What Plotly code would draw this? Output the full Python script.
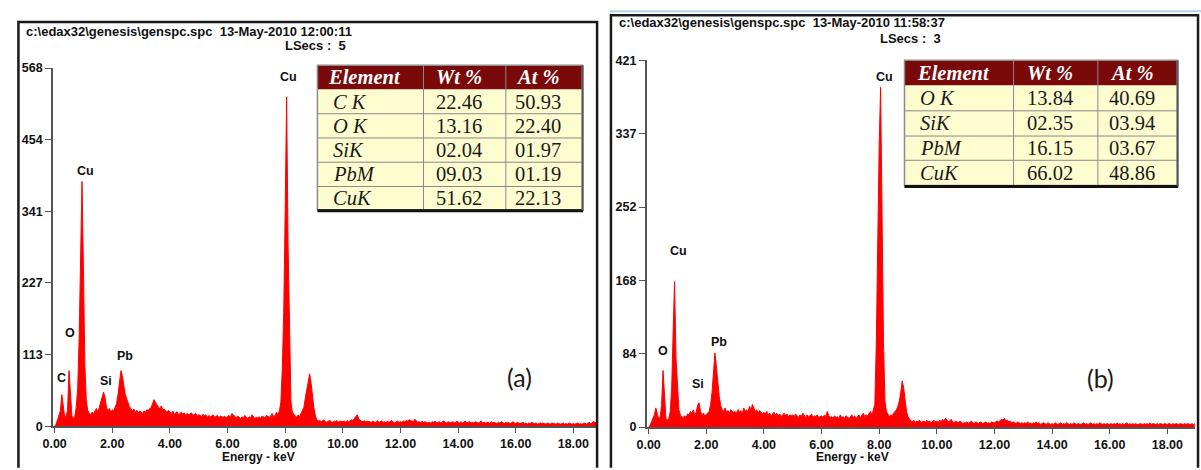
import plotly.graph_objects as go

# ---------------------------------------------------------------------------
# EDS spectra, counts per 0.05 keV channel starting at 0.00 keV
# ---------------------------------------------------------------------------
CHANNEL_KEV = 0.05

counts_a = [
    0, 3, 10, 16, 24, 50, 30, 14, 16, 25, 88, 42, 16, 12, 15, 30, 60, 137, 292, 388,        # 0-1 keV
    249, 95, 40, 25, 20, 18, 22, 20, 24, 28, 22, 30, 35, 42, 54, 45, 30, 24, 28, 22,         # 1-2
    26, 24, 30, 36, 50, 70, 88, 80, 62, 50, 44, 35, 30, 28, 24, 27, 22, 25, 21, 24,          # 2-3
    23, 20, 24, 22, 26, 25, 28, 30, 36, 42, 38, 33, 30, 28, 32, 26, 27, 24, 22, 25,          # 3-4
    22, 20, 24, 19, 21, 23, 18, 20, 22, 19, 21, 17, 20, 18, 19, 21, 17, 18, 20, 16,          # 4-5
    18, 17, 15, 19, 16, 18, 14, 17, 15, 16, 18, 14, 15, 17, 13, 16, 15, 14, 16, 13,          # 5-6
    15, 17, 14, 20, 18, 15, 13, 16, 14, 12, 15, 13, 17, 14, 12, 15, 13, 18, 14, 12,          # 6-7
    14, 13, 15, 12, 16, 14, 13, 17, 15, 14, 16, 20, 15, 17, 22, 18, 24, 38, 90, 180,         # 7-8
    340, 522, 290, 126, 40, 22, 18, 16, 14, 18, 15, 20, 24, 30, 45, 60, 70, 83, 68, 45,      # 8-9
    28, 16, 10, 8, 9, 7, 8, 10, 7, 6, 8, 9, 7, 6, 8, 7, 9, 6, 8, 7,                          # 9-10
    7, 8, 6, 9, 7, 8, 10, 9, 12, 15, 18, 12, 9, 8, 7, 9, 6, 8, 7, 6,                         # 10-11
    6, 8, 7, 5, 9, 6, 7, 8, 6, 7, 5, 8, 6, 7, 9, 6, 5, 7, 8, 6,                              # 11-12
    7, 6, 8, 7, 9, 8, 10, 9, 8, 7, 11, 8, 6, 7, 5, 8, 6, 7, 6, 5,                            # 12-13
    6, 5, 7, 6, 8, 5, 6, 7, 5, 6, 8, 6, 5, 7, 6, 5, 7, 6, 5, 8,                              # 13-14
    6, 5, 7, 5, 6, 8, 5, 6, 7, 5, 6, 5, 7, 6, 5, 6, 8, 5, 6, 5,                              # 14-15
    5, 6, 4, 7, 5, 6, 5, 4, 6, 5, 7, 5, 4, 6, 5, 6, 4, 5, 7, 5,                              # 15-16
    4, 6, 5, 4, 5, 6, 4, 5, 3, 5, 4, 6, 5, 4, 5, 3, 4, 5, 4, 5,                              # 16-17
    4, 3, 5, 4, 3, 5, 4, 4, 3, 5, 4, 3, 4, 5, 3, 4, 3, 5, 4, 3,                              # 17-18
    4, 3, 4, 5, 3, 4, 3, 4, 5, 3, 4, 6, 4, 5, 8, 5, 7, 4, 6, 5,                              # 18-19
]

counts_b = [
    0, 2, 6, 10, 14, 22, 14, 9, 12, 25, 65, 30, 10, 8, 10, 18, 45, 109, 167, 79,             # 0-1 keV
    40, 20, 14, 12, 10, 13, 11, 15, 14, 18, 16, 20, 14, 17, 25, 28, 18, 14, 16, 13,          # 1-2
    14, 16, 18, 26, 40, 60, 85, 70, 50, 35, 25, 20, 18, 22, 17, 19, 16, 20, 18, 17,          # 2-3
    18, 16, 20, 17, 19, 15, 22, 18, 20, 17, 24, 19, 26, 21, 18, 20, 16, 19, 17, 15,          # 3-4
    17, 15, 18, 14, 16, 13, 15, 17, 14, 16, 13, 15, 12, 14, 16, 13, 15, 12, 14, 13,          # 4-5
    14, 12, 15, 13, 11, 14, 12, 16, 13, 11, 14, 12, 13, 15, 11, 13, 12, 14, 11, 12,          # 5-6
    13, 11, 14, 12, 18, 13, 11, 12, 10, 13, 11, 12, 10, 14, 11, 12, 10, 13, 11, 10,          # 6-7
    12, 14, 11, 13, 10, 12, 14, 11, 13, 16, 12, 14, 13, 15, 18, 14, 20, 26, 96, 237,         # 7-8
    324, 390, 237, 96, 30, 18, 15, 12, 14, 13, 16, 18, 20, 24, 30, 40, 53, 45, 30, 18,       # 8-9
    12, 9, 7, 6, 8, 5, 7, 6, 8, 5, 6, 7, 5, 8, 6, 7, 5, 6, 8, 6,                             # 9-10
    7, 5, 8, 6, 9, 7, 10, 8, 6, 7, 9, 6, 5, 7, 6, 5, 7, 6, 4, 5,                             # 10-11
    5, 6, 4, 5, 7, 5, 4, 6, 5, 4, 6, 5, 4, 5, 6, 4, 5, 4, 6, 5,                              # 11-12
    5, 6, 7, 6, 8, 9, 8, 10, 7, 8, 6, 7, 5, 6, 5, 4, 6, 5, 4, 5,                             # 12-13
    4, 5, 4, 6, 4, 5, 3, 5, 4, 6, 4, 5, 3, 4, 5, 4, 3, 5, 4, 3,                              # 13-14
    4, 3, 5, 4, 3, 4, 5, 3, 4, 3, 5, 4, 3, 4, 3, 5, 4, 3, 4, 3,                              # 14-15
    3, 4, 5, 3, 4, 3, 4, 5, 3, 4, 3, 4, 3, 5, 4, 3, 4, 3, 4, 3,                              # 15-16
    3, 4, 3, 4, 3, 5, 3, 4, 3, 4, 3, 4, 5, 3, 4, 3, 4, 3, 4, 3,                              # 16-17
    3, 4, 3, 3, 4, 3, 4, 3, 5, 3, 4, 3, 3, 4, 3, 4, 3, 3, 4, 3,                              # 17-18
    3, 4, 3, 3, 4, 3, 4, 3, 3, 4, 3, 3, 4, 3, 4, 3, 3, 4, 3, 4,                              # 18-19
]

energy_a = [round(i * CHANNEL_KEV, 2) for i in range(len(counts_a))]
energy_b = [round(i * CHANNEL_KEV, 2) for i in range(len(counts_b))]

# axis ticks
x_ticks = [0, 2, 4, 6, 8, 10, 12, 14, 16, 18]
x_tick_text = ["0.00", "2.00", "4.00", "6.00", "8.00", "10.00", "12.00", "14.00", "16.00", "18.00"]
y_max_a = 568
y_max_b = 421
y_ticks_a = [0, 113.6, 227.2, 340.8, 454.4, 568]
y_tick_text_a = ["0", "113", "227", "341", "454", "568"]
y_ticks_b = [0, 84.2, 168.4, 252.6, 336.8, 421]
y_tick_text_b = ["0", "84", "168", "252", "337", "421"]

# peak labels: (text, energy keV, counts)
peaks_a = [("Cu", 8.12, 554), ("Cu", 1.07, 405), ("O", 0.52, 148),
           ("C", 0.24, 77), ("Si", 1.79, 71), ("Pb", 2.44, 112)]
peaks_b = [("Cu", 8.17, 402), ("Cu", 1.04, 202), ("O", 0.49, 87),
           ("Si", 1.73, 49), ("Pb", 2.45, 98)]

# quantification tables
table_head = ["Element", "Wt %", "At %"]
elements_a = ["C K", "O K", "SiK", "PbM", "CuK"]
wt_a = ["22.46", "13.16", "02.04", "09.03", "51.62"]
at_a = ["50.93", "22.40", "01.97", "01.19", "22.13"]
elements_b = ["O K", "SiK", "PbM", "CuK"]
wt_b = ["13.84", "02.35", "16.15", "66.02"]
at_b = ["40.69", "03.94", "03.67", "48.86"]

header_a = r"c:\edax32\genesis\genspc.spc  13-May-2010 12:00:11"
header_b = r"c:\edax32\genesis\genspc.spc  13-May-2010 11:58:37"
lsecs_a = "LSecs :  5"
lsecs_b = "LSecs :  3"

# ---------------------------------------------------------------------------
W, H = 1201, 470


def px(x):
    return x / W


def py(y):
    return 1 - y / H


SANS = "Liberation Sans, Arial, sans-serif"
SERIF = "Liberation Serif, Times New Roman, serif"
RED = "#ff0000"
AXIS = "#555555"
INK = "#111111"

fig = go.Figure()
fig.add_trace(go.Scatter(x=energy_a, y=counts_a, mode="lines", line=dict(color=RED, width=1),
                         fill="tozeroy", fillcolor=RED, xaxis="x", yaxis="y",
                         hoverinfo="skip", showlegend=False))
fig.add_trace(go.Scatter(x=energy_b, y=counts_b, mode="lines", line=dict(color=RED, width=1),
                         fill="tozeroy", fillcolor=RED, xaxis="x2", yaxis="y2",
                         hoverinfo="skip", showlegend=False))

tick_font = dict(family=SANS, size=12.5, color=INK, weight="bold")
label_font = dict(family=SANS, size=12.5, color=INK, weight="bold")


def xaxis_cfg(left, right, x0_px, anchor):
    scale = 29.06  # px per keV
    return dict(domain=[px(left), px(right)],
                range=[-(x0_px - left) / scale, (right - x0_px) / scale],
                tickvals=x_ticks, ticktext=x_tick_text, tickfont=tick_font,
                showline=True, linecolor=AXIS, linewidth=1.5,
                ticks="outside", ticklen=5, tickcolor=AXIS, tickwidth=1.2,
                showgrid=False, zeroline=False, anchor=anchor, fixedrange=True)


def yaxis_cfg(bottom, top, ymax, vals, text, anchor):
    return dict(domain=[py(bottom), py(top)], range=[0, ymax],
                tickvals=vals, ticktext=text, tickfont=tick_font,
                showline=True, linecolor=AXIS, linewidth=1.5,
                ticks="outside", ticklen=6, tickcolor=AXIS, tickwidth=1.2,
                showgrid=False, zeroline=False, anchor=anchor, fixedrange=True)


shapes = []
annotations = []

# panel frames
for (l, t, r) in [(8.5, 15.5, 592), (606, 8.5, 1198)]:
    shapes.append(dict(type="path", xref="paper", yref="paper",
                       path=f"M {px(l)},{py(H + 5)} L {px(l)},{py(t)} L {px(r)},{py(t)} L {px(r)},{py(H + 5)}",
                       line=dict(color="#1a1a1a", width=2.5)))
shapes.append(dict(type="line", xref="paper", yref="paper", x0=px(605), x1=px(1201),
                   y0=py(4.5), y1=py(4.5), line=dict(color="#b3d1f0", width=2)))

# header text
for (txt, x, y) in [(header_a, 14, 25), (header_b, 612, 16),
                    (lsecs_a, 275, 40), (lsecs_b, 875, 32)]:
    annotations.append(dict(text=txt, x=px(x), y=py(y), xref="paper", yref="paper",
                            xanchor="left", yanchor="middle", showarrow=False,
                            font=dict(family=SANS, size=13, color=INK, weight="bold")))

# axis titles
for (x, y) in [(251, 463.5), (850, 463.5)]:
    annotations.append(dict(text="Energy - keV", x=px(x), y=py(y), xref="paper", yref="paper",
                            xanchor="center", yanchor="middle", showarrow=False, borderpad=0,
                            font=dict(family=SANS, size=12, color=INK, weight="bold")))

# peak labels
for peaks, xr, yr in [(peaks_a, "x", "y"), (peaks_b, "x2", "y2")]:
    for (txt, e, c) in peaks:
        annotations.append(dict(text=txt, x=e, y=c, xref=xr, yref=yr, showarrow=False,
                                xanchor="center", yanchor="middle", font=label_font))

# panel tags
for (txt, x, y) in [("(a)", 514, 381), ("(b)", 1100, 382)]:
    annotations.append(dict(text=txt, x=px(x), y=py(y), xref="paper", yref="paper",
                            xanchor="center", yanchor="middle", showarrow=False,
                            font=dict(family="Lato, Open Sans, sans-serif", size=25, color="#1a1a1a")))


def add_table(cols, rows, elements, wt, at):
    # header band
    shapes.append(dict(type="rect", xref="paper", yref="paper", x0=px(cols[0]), x1=px(cols[-1]),
                       y0=py(rows[1]), y1=py(rows[0]), fillcolor="#7a0a0a", line=dict(width=0)))
    # body
    shapes.append(dict(type="rect", xref="paper", yref="paper", x0=px(cols[0]), x1=px(cols[-1]),
                       y0=py(rows[-1]), y1=py(rows[1]), fillcolor="#fdfdcf", line=dict(width=0)))
    # grid
    for yv in rows[2:-1]:
        shapes.append(dict(type="line", xref="paper", yref="paper", x0=px(cols[0]), x1=px(cols[-1]),
                           y0=py(yv), y1=py(yv), line=dict(color="#8a8a8a", width=1)))
    for xv in cols[1:-1]:
        shapes.append(dict(type="line", xref="paper", yref="paper", x0=px(xv), x1=px(xv),
                           y0=py(rows[-1]), y1=py(rows[0]), line=dict(color="#8a8a8a", width=1)))
    shapes.append(dict(type="rect", xref="paper", yref="paper", x0=px(cols[0]), x1=px(cols[-1]),
                       y0=py(rows[-1]), y1=py(rows[0]), line=dict(color="#8c8c8c", width=1.5)))
    shapes.append(dict(type="line", xref="paper", yref="paper", x0=px(cols[0]), x1=px(cols[-1] + 1),
                       y0=py(rows[-1] + 1), y1=py(rows[-1] + 1), line=dict(color="#111111", width=3)))
    shapes.append(dict(type="line", xref="paper", yref="paper", x0=px(cols[-1] + 0.5), x1=px(cols[-1] + 0.5),
                       y0=py(rows[-1] + 1), y1=py(rows[0]), line=dict(color="#555555", width=2)))

    centers = [(cols[i] + cols[i + 1]) / 2 - 6 for i in range(3)]
    head_y = (rows[0] + rows[1]) / 2
    for i, txt in enumerate(table_head):
        annotations.append(dict(text=txt, x=px(centers[i]), y=py(head_y), xref="paper", yref="paper",
                                xanchor="center", yanchor="middle", showarrow=False,
                                font=dict(family=SERIF, size=20.5, color="white",
                                          weight="bold", style="italic")))
    for r, (el, w, a) in enumerate(zip(elements, wt, at)):
        yc = (rows[r + 1] + rows[r + 2]) / 2
        annotations.append(dict(text=el, x=px(cols[0] + 14), y=py(yc), xref="paper", yref="paper",
                                xanchor="left", yanchor="middle", showarrow=False,
                                font=dict(family=SERIF, size=20.5, color="#1a1a1a", style="italic")))
        for i, v in ((1, w), (2, a)):
            annotations.append(dict(text=v, x=px(centers[i]), y=py(yc), xref="paper", yref="paper",
                                    xanchor="center", yanchor="middle", showarrow=False,
                                    font=dict(family=SERIF, size=20.5, color="#1a1a1a")))


add_table([310, 417, 500, 577], [60, 85, 110, 135, 160, 185, 209], elements_a, wt_a, at_a)
add_table([902, 1012, 1097, 1177], [55, 81, 107, 133, 158, 184], elements_b, wt_b, at_b)

fig.update_layout(
    width=W, height=H, autosize=False,
    margin=dict(l=0, r=0, t=0, b=0, pad=0),
    paper_bgcolor="white", plot_bgcolor="white",
    showlegend=False,
    xaxis=xaxis_cfg(43.3, 592, 45, "y"),
    yaxis=yaxis_cfg(432, 63, y_max_a, y_ticks_a, y_tick_text_a, "x"),
    xaxis2=xaxis_cfg(642, 1195, 644, "y2"),
    yaxis2=yaxis_cfg(433, 55, y_max_b, y_ticks_b, y_tick_text_b, "x2"),
    shapes=shapes,
    annotations=annotations,
)

fig.write_html("out.html")
